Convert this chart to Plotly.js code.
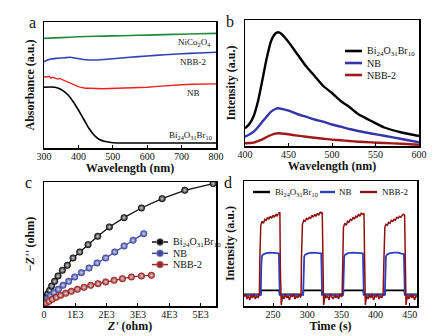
<!DOCTYPE html>
<html><head><meta charset="utf-8">
<script src="https://cdn.plot.ly/plotly-3.0.1.min.js"></script>
<style>html,body{margin:0;padding:0;background:#fff}</style>
</head><body><div id="plot" style="width:441px;height:336px"></div>
<script>
// ---------- Panel a: UV-vis absorbance ----------
const aGreenX = [300, 350, 400, 450, 500, 550, 600, 650, 700, 750, 800];
const aGreenY = [109.6, 110.4, 111.2, 111.7, 112.1, 112.5, 112.9, 113.4, 113.8, 114.2, 114.6];
const aBlueX = [300, 310, 320, 340, 360, 375, 390, 410, 430, 450, 500, 550, 600, 650, 700, 750, 800];
const aBlueY = [86.3, 88, 89, 89.7, 90.3, 90.7, 90, 88.7, 88, 88, 89.3, 90.7, 92, 93.3, 94.3, 95, 95.7];
const aRedX = [300, 305, 310, 315, 320, 325, 330, 335, 340, 345, 350, 355, 360, 365, 370, 375, 380, 385, 390, 395, 400, 405, 410, 415, 420, 430, 440, 450, 470, 500, 530, 550, 580, 600, 630, 650, 680, 700, 730, 750, 780, 800];
const aRedY = [70.7, 71.5, 70.9, 71.8, 69.9, 70.8, 70.2, 69.4, 68.9, 69.6, 68.8, 68.0, 67.3, 66.6, 65.4, 65.0, 64.0, 63.6, 62.7, 62.2, 61.4, 60.9, 60.3, 60.1, 59.7, 59.9, 59.4, 59.5, 59.2, 59.4, 59.6, 59.7, 60.2, 60.7, 61.6, 62.3, 62.9, 63.3, 63.8, 64.0, 63.9, 64.1];
const aBlackX = [300, 320, 340, 355, 370, 385, 400, 410, 420, 430, 440, 450, 460, 475, 500, 550, 600, 700, 800];
const aBlackY = [60.7, 61, 60, 57.3, 53, 46.3, 38, 32, 26, 20, 15.3, 11.3, 8.7, 6.7, 5.3, 5, 5, 5, 5];
const aLabels = ['NiCo<sub>2</sub>O<sub>4</sub>', 'NBB-2', 'NB', 'Bi<sub>24</sub>O<sub>31</sub>Br<sub>10</sub>'];
const aTicks = [300, 400, 500, 600, 700, 800];

// ---------- Panel b: PL spectra ----------
const bX = [400, 405, 410, 415, 420, 425, 430, 435, 438, 442, 450, 460, 470, 480, 490, 500, 510, 520, 530, 545, 560, 580, 600];
const bBlack = [17.7, 22, 30, 45, 66, 88, 105, 112.5, 113.7, 112, 104, 92, 80, 70, 60, 53, 45, 39, 32, 25, 18.5, 13.5, 10];
const bBlue  = [9.3, 11.5, 14.3, 19, 24.3, 29.5, 34.3, 37, 37.7, 37.2, 35.3, 32, 29.3, 26.5, 24.3, 21.5, 19.3, 17, 15, 12.5, 10.2, 7, 3.7];
const bRed   = [2.7, 3, 3.3, 5, 6.7, 9, 11, 12.3, 12.7, 12.5, 11.7, 10.4, 9.3, 8.2, 7.3, 6.4, 5.7, 5, 4.3, 3.6, 3, 2.2, 1.3];
const bTicks = [400, 450, 500, 550, 600];

// ---------- Panel c: Nyquist plots ----------
const cBlackX = [11, 32, 75, 117, 181, 245, 341, 447, 586, 745, 927, 1140, 1406, 1715, 2087, 2556, 3110, 3770, 4494, 5400];
const cBlackY = [75, 181, 288, 394, 500, 639, 788, 959, 1140, 1299, 1534, 1725, 1960, 2226, 2524, 2822, 3131, 3429, 3696, 3909];
const cBlueX = [21, 53, 117, 202, 320, 458, 607, 788, 980, 1193, 1438, 1693, 1970, 2258, 2556, 2844, 3184];
const cBlueY = [75, 149, 234, 320, 426, 532, 660, 788, 927, 1065, 1214, 1374, 1534, 1725, 1917, 2098, 2311];
const cRedX = [21, 75, 160, 266, 394, 533, 692, 873, 1065, 1278, 1491, 1725, 1970, 2237, 2503, 2790, 3110, 3429];
const cRedY = [43, 96, 149, 213, 277, 341, 405, 469, 533, 596, 660, 714, 767, 820, 873, 927, 959, 980];
const cTickVals = [0, 1000, 2000, 3000, 4000, 5000];
const cTickText = ['0', '1E3', '2E3', '3E3', '4E3', '5E3'];

// ---------- Panel d: transient photocurrent ----------
const dRedT = [208,210,212,214,216,218,220,222,224,226,228,230,
  230.6,231.2,232,234,236,238,240,242,244,246,248,250,252,254,256,258,260,
  260.6,261.2,262,263,264,266,268,270,272,274,276,278,280,282,284,286,288,290,291,
  291.6,292.2,293,295,297,299,301,303,305,307,309,311,313,315,317,319,321,322,
  322.6,323.2,324,325,326,328,330,332,334,336,338,340,342,344,346,348,350,351,
  351.6,352.2,353,355,357,359,361,363,365,367,369,371,373,375,377,379,381,383,
  383.6,384.2,385,386,387,389,391,393,395,397,399,401,403,405,407,409,411,
  412.2,412.8,413.6,415,417,419,421,423,425,427,429,431,433,435,437,439,441,442.5,
  443.1,443.7,444.5,445.5,447,449,451,453,455,457,459,460.6];
const dRedY = [9,12,7,10,6,11,8,12,7,10,8,11,
  45,72,80,84,82,86,85,88,86,89,87,90,88,91,89,92,93,
  40,2,1,6,10,7,12,8,10,6,11,9,12,7,10,8,11,9,10,
  48,74,81,85,84,87,86,88,87,90,88,91,89,92,90,93,92,93,
  38,3,1,5,11,8,10,6,12,9,7,11,8,10,7,12,9,10,
  45,70,78,82,80,84,83,86,85,88,86,89,88,91,89,92,91,92,
  35,2,1,6,10,7,11,8,12,6,10,9,12,7,10,8,11,
  46,70,78,81,80,83,82,85,84,86,85,88,87,89,88,90,91,90,
  36,2,1,6,10,7,12,8,11,6,10,9];
const dBlueT = [208,232,232.8,233.6,235,240,245,250,255,258.5,259.2,259.8,
  294,294.8,295.6,297,302,307,312,317,320.5,321.2,321.8,
  352.5,353.3,354.1,355.5,360,366,372,378,381.5,382.2,382.8,
  413.5,414.3,415.1,416.5,421,427,433,438,441.5,442.2,442.8,460.6];
const dBlueY = [11,11,40,49,51,52.5,53,53,52.5,52,30,11,
  11,40,49,51,52.5,53,53,52.5,52,30,11,
  11,40,49,51,52.5,53,53,52.5,52,30,11,
  11,40,49,51,52.5,53,53,52,51.5,30,11,11];
const dBlackT = [208,232,232.6,259,259.6,294,294.6,321,321.6,352.5,353.1,382,382.6,413.5,414.1,442,442.6,460.6];
const dBlackY = [11.5,11.5,15.5,15.5,11.5,11.5,15.5,15.5,11.5,11.5,15.5,15.5,11.5,11.5,15.5,15.5,11.5,11.5];
const dTicks = [250, 300, 350, 400, 450];

const seriesNames = ['Bi<sub>24</sub>O<sub>31</sub>Br<sub>10</sub>', 'NB', 'NBB-2'];

// ---------- styling ----------
const W = 441, H = 336;
const px = x => x / W, py = y => 1 - y / H;
const SERIF = '"Liberation Serif", "Times New Roman", Times, serif';
const colA = {green:'#1f8a3c', blue:'#3040b8', red:'#ee2020', black:'#000000'};
const colB = ['#000000', '#3434a8', '#a01818'];
const colC = ['#111111', '#3a46a8', '#a02222'];
const colD = ['#000000', '#2b3fc4', '#8e1010'];

const traces = [];
function line(x, y, color, width, xa, ya, shape) {
  traces.push({x, y, type:'scatter', mode:'lines', xaxis:xa, yaxis:ya,
    line:{color, width, shape: shape || 'linear', smoothing: 0.6}, hoverinfo:'skip', showlegend:false});
}
line(aGreenX, aGreenY, colA.green, 1.6, 'x', 'y', 'spline');
line(aBlueX, aBlueY, colA.blue, 1.6, 'x', 'y', 'spline');
line(aRedX, aRedY, colA.red, 1.4, 'x', 'y');
line(aBlackX, aBlackY, colA.black, 1.6, 'x', 'y', 'spline');

line(bX, bBlack, colB[0], 2.4, 'x2', 'y2', 'spline');
line(bX, bBlue, colB[1], 2.4, 'x2', 'y2', 'spline');
line(bX, bRed, colB[2], 2.4, 'x2', 'y2', 'spline');

function nyq(x, y, color) {
  traces.push({x, y, type:'scatter', mode:'lines+markers', xaxis:'x3', yaxis:'y3',
    line:{color, width:1.3},
    marker:{symbol:'circle', size:6.5, color, line:{color, width:0.6}, gradient:{type:'radial', color:'#d8d8d8'}},
    hoverinfo:'skip', showlegend:false});
}
nyq(cBlackX, cBlackY, colC[0]);
nyq(cBlueX, cBlueY, colC[1]);
nyq(cRedX, cRedY, colC[2]);

line(dBlackT, dBlackY, colD[0], 1.6, 'x4', 'y4');
line(dBlueT, dBlueY, colD[1], 1.8, 'x4', 'y4');
line(dRedT, dRedY, colD[2], 1.5, 'x4', 'y4');

const tickFont = {family: SERIF, size: 10, color: '#111'};
const titleFont = {family: SERIF, size: 12, color: '#111', weight: 'bold'};
function xax(domain, range, tickvals, title, anchor, ticktext) {
  const o = {domain, range, anchor, tickvals, showline:true, mirror:true, linecolor:'#000', linewidth:1.5,
    ticks:'inside', ticklen:3, tickwidth:1, tickcolor:'#000', showgrid:false, zeroline:false,
    tickfont:tickFont, automargin:false, fixedrange:true, ticklabelstandoff:-2,
    title:{text:title, font:titleFont, standoff:0}};
  if (ticktext) o.ticktext = ticktext;
  return o;
}
function yax(domain, range, title, anchor) {
  return {domain, range, anchor, showline:true, mirror:true, linecolor:'#000', linewidth:1.5,
    ticks:'', showticklabels:false, showgrid:false, zeroline:false, automargin:false, fixedrange:true,
    title:{text:title, font:titleFont, standoff:5}};
}

const layout = {
  width: W, height: H, margin:{l:0, r:0, t:0, b:0}, paper_bgcolor:'#fff', plot_bgcolor:'#fff',
  showlegend:false, font:{family:SERIF, color:'#111', size:10},
  xaxis: xax([px(44), px(216)], [300, 800], aTicks, 'Wavelength (nm)', 'y'),
  yaxis: yax([py(148), py(22)], [0, 126], 'Absorbance (a.u.)', 'x'),
  xaxis2: xax([px(245), px(419)], [400, 600], bTicks, 'Wavelength (nm)', 'y2'),
  yaxis2: yax([py(146), py(20)], [0, 126], 'Intensity (a.u.)', 'x2'),
  xaxis3: xax([px(44), px(216)], [0, 5490], cTickVals, '<i>Z\'</i> (ohm)', 'y3', cTickText),
  yaxis3: yax([py(306), py(182)], [0, 3960], '\u2212<i>Z\'\'</i> (ohm)', 'x3'),
  xaxis4: xax([px(244), px(417)], [207.5, 460.6], dTicks, 'Time (s)', 'y4'),
  yaxis4: yax([py(306), py(181)], [0, 124], 'Intensity (a.u.)', 'x4'),
  shapes: [], annotations: []
};

// panel a direct labels
const aLabelPos = [[790, 105.3], [776, 86.3], [760, 55.3], [794, 13]];
aLabels.forEach((t, i) => layout.annotations.push({text:t, x:aLabelPos[i][0], y:aLabelPos[i][1], xref:'x', yref:'y',
  xanchor:'right', yanchor:'middle', showarrow:false, font:{family:SERIF, size:9, color:'#111'}}));

// panel letters
[['a', 32, 23], ['b', 230, 22], ['c', 29, 183], ['d', 228, 183]].forEach(([t, x, y]) =>
  layout.annotations.push({text:t, x:px(x), y:py(y), xref:'paper', yref:'paper', xanchor:'center', yanchor:'middle',
    showarrow:false, font:{family:SERIF, size:16, color:'#111'}}));

// legend b
seriesNames.forEach((t, i) => {
  const yy = py(51 + i * 12);
  layout.shapes.push({type:'line', xref:'paper', yref:'paper', x0:px(345), x1:px(362), y0:yy, y1:yy, line:{color:colB[i], width:2.6}});
  layout.annotations.push({text:t, x:px(365), y:yy, xref:'paper', yref:'paper', xanchor:'left', yanchor:'middle',
    showarrow:false, font:{family:SERIF, size:10, color:'#111'}});
});
// legend c
seriesNames.forEach((t, i) => {
  const yy = py(242 + i * 11.3);
  layout.shapes.push({type:'line', xref:'paper', yref:'paper', x0:px(152), x1:px(168), y0:yy, y1:yy, line:{color:colC[i], width:1.5}});
  layout.shapes.push({type:'circle', xref:'paper', yref:'paper', x0:px(156.5), x1:px(163.5), y0:yy - 3.5 / H, y1:yy + 3.5 / H,
    fillcolor:colC[i], line:{color:'#999', width:0.8}});
  layout.annotations.push({text:t, x:px(171), y:yy, xref:'paper', yref:'paper', xanchor:'left', yanchor:'middle',
    showarrow:false, font:{family:SERIF, size:10, color:'#111'}});
});
// legend d
const dLeg = [[253, 270, 273], [320, 335, 337], [360, 377, 380]];
seriesNames.forEach((t, i) => {
  const yy = py(192);
  layout.shapes.push({type:'line', xref:'paper', yref:'paper', x0:px(dLeg[i][0]), x1:px(dLeg[i][1]), y0:yy, y1:yy, line:{color:colD[i], width:2.4}});
  layout.annotations.push({text:t, x:px(dLeg[i][2]), y:yy, xref:'paper', yref:'paper', xanchor:'left', yanchor:'middle',
    showarrow:false, font:{family:SERIF, size:9, color:'#111'}});
});

Plotly.newPlot('plot', traces, layout, {staticPlot:true, displayModeBar:false});
</script></body></html>
